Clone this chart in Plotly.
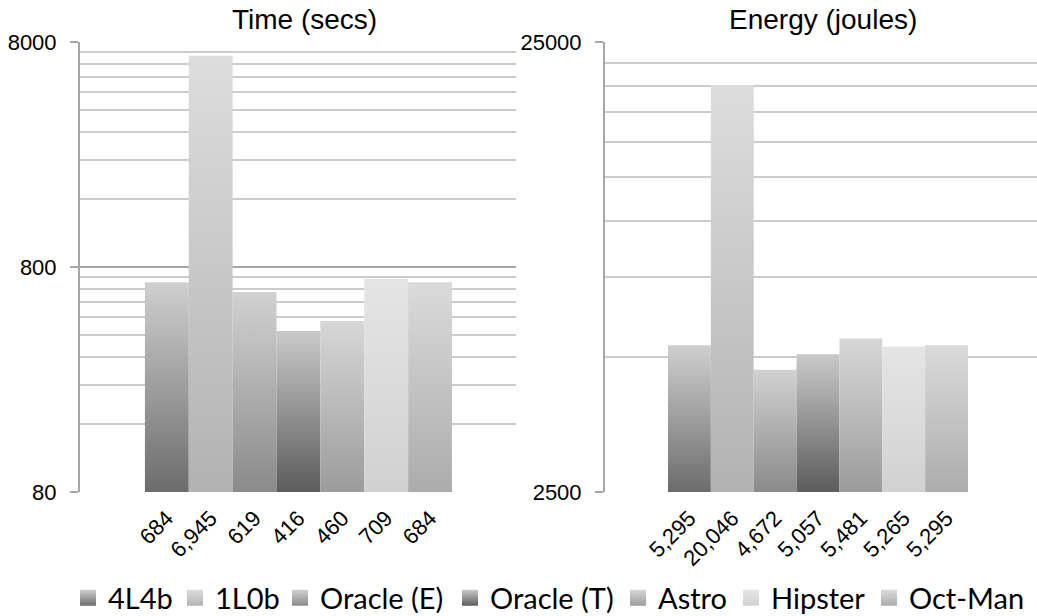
import plotly.graph_objects as go

# Benchmarks and their measured cost
systems = ["4L4b", "1L0b", "Oracle (E)", "Oracle (T)", "Astro", "Hipster", "Oct-Man"]
time_secs = [684, 6945, 619, 416, 460, 709, 684]
energy_joules = [5295, 20046, 4672, 5057, 5481, 5265, 5295]

# Bottom / top shades of each system's gradient fill
shade_bottom = ["#6c6c6c", "#b2b2b2", "#8a8a8a", "#5c5c5c", "#9b9b9b", "#d1d1d1", "#acacac"]
shade_top = ["#cfcfcf", "#dddddd", "#d1d1d1", "#c9c9c9", "#d7d7d7", "#e5e5e5", "#dadada"]

time_ticks = [80, 800, 8000]
energy_ticks = [2500, 25000]

# Left edge (px) of each legend entry along the bottom row
key_left_px = [68, 175, 280, 450, 618, 731, 869]

FONT = "Liberation Sans"
GRID_MAJOR = "#a6a6a6"
GRID_MINOR = "#cccccc"
W, H = 1037, 616


def minor_lines(base, top):
    vals = []
    step = base
    while step < top:
        for k in range(2, 10):
            v = k * step
            if v < top:
                vals.append(v)
        step *= 10
    return vals


fig = go.Figure()


def add_panel(values, floor, xref, yref):
    for i, (name, v) in enumerate(zip(systems, values)):
        fig.add_trace(go.Scatter(
            x=[i - 0.5, i + 0.5, i + 0.5, i - 0.5, i - 0.5],
            y=[floor, floor, v, v, floor],
            mode="none",
            fill="toself",
            fillcolor=shade_top[i],
            fillgradient=dict(type="vertical",
                              colorscale=[[0, shade_bottom[i]], [1, shade_top[i]]]),
            name=name,
            legendgroup=name,
            showlegend=False,
            hoverinfo="skip",
            xaxis=xref,
            yaxis=yref,
        ))


add_panel(time_secs, time_ticks[0], "x", "y")
add_panel(energy_joules, energy_ticks[0], "x2", "y2")

# Square gradient legend keys, each in its own legend box
legend_layouts = {}
for i, name in enumerate(systems):
    lg = "legend" if i == 0 else f"legend{i + 1}"
    fig.add_trace(go.Scatter(
        x=[None], y=[None], name=name, legendgroup=name, legend=lg,
        mode="markers",
        marker=dict(symbol="square", size=16, color=shade_top[i],
                    gradient=dict(type="vertical", color=shade_bottom[i]),
                    line=dict(width=0)),
        showlegend=True, xaxis="x", yaxis="y",
    ))
    legend_layouts[lg] = dict(
        orientation="h",
        x=key_left_px[i] / W,
        xanchor="left",
        y=1 - 598 / H,
        yanchor="middle",
        font=dict(family="Lato", size=29, color="#000"),
        itemwidth=30,
        bgcolor="rgba(0,0,0,0)",
        borderwidth=0,
    )

y_dom = [1 - 492 / H, 1 - 42 / H]

xaxis_common = dict(
    tickmode="array",
    tickvals=list(range(len(systems))),
    tickangle=-45,
    tickfont=dict(family=FONT, size=22, color="#000"),
    showgrid=False,
    zeroline=False,
    showline=False,
    ticks="",
    ticklabelstandoff=8,
    fixedrange=True,
)

yaxis_common = dict(
    type="log",
    showline=True,
    linecolor=GRID_MAJOR,
    linewidth=2,
    ticks="outside",
    ticklen=8,
    tickwidth=2,
    tickcolor=GRID_MAJOR,
    showgrid=True,
    gridcolor=GRID_MAJOR,
    gridwidth=2,
    zeroline=False,
    tickfont=dict(family=FONT, size=22, color="#000"),
    ticklabelstandoff=9,
)

fig.update_layout(
    width=W,
    height=H,
    margin=dict(l=0, r=0, t=0, b=0, autoexpand=False),
    paper_bgcolor="white",
    plot_bgcolor="white",
    showlegend=True,
    xaxis=dict(
        xaxis_common,
        domain=[80 / W, 516 / W],
        range=[-1.98, 7.96],
        ticktext=[f"{v:,}" for v in time_secs],
        anchor="y",
    ),
    yaxis=dict(
        yaxis_common,
        domain=y_dom,
        range=[1.9031, 3.9031],
        tickvals=time_ticks,
        ticktext=[str(v) for v in time_ticks],
        minor=dict(tickvals=minor_lines(80, 8000), showgrid=True,
                   gridcolor=GRID_MINOR, gridwidth=2, ticks=""),
        anchor="x",
    ),
    xaxis2=dict(
        xaxis_common,
        domain=[605 / W, 1.0],
        range=[-1.97, 8.11],
        ticktext=[f"{v:,}" for v in energy_joules],
        anchor="y2",
    ),
    yaxis2=dict(
        yaxis_common,
        domain=y_dom,
        range=[3.39794, 4.39794],
        tickvals=energy_ticks,
        ticktext=[str(v) for v in energy_ticks],
        minor=dict(tickvals=minor_lines(2500, 25000), showgrid=True,
                   gridcolor=GRID_MINOR, gridwidth=2, ticks=""),
        anchor="x2",
    ),
    annotations=[
        dict(text="Time (secs)", x=304 / W, y=1 - 20 / H, xref="paper", yref="paper",
             showarrow=False, xanchor="center", yanchor="middle",
             font=dict(family=FONT, size=28, color="#000")),
        dict(text="Energy (joules)", x=823 / W, y=1 - 20 / H, xref="paper", yref="paper",
             showarrow=False, xanchor="center", yanchor="middle",
             font=dict(family=FONT, size=28, color="#000")),
    ],
    **legend_layouts,
)

fig.write_html("out.html")
